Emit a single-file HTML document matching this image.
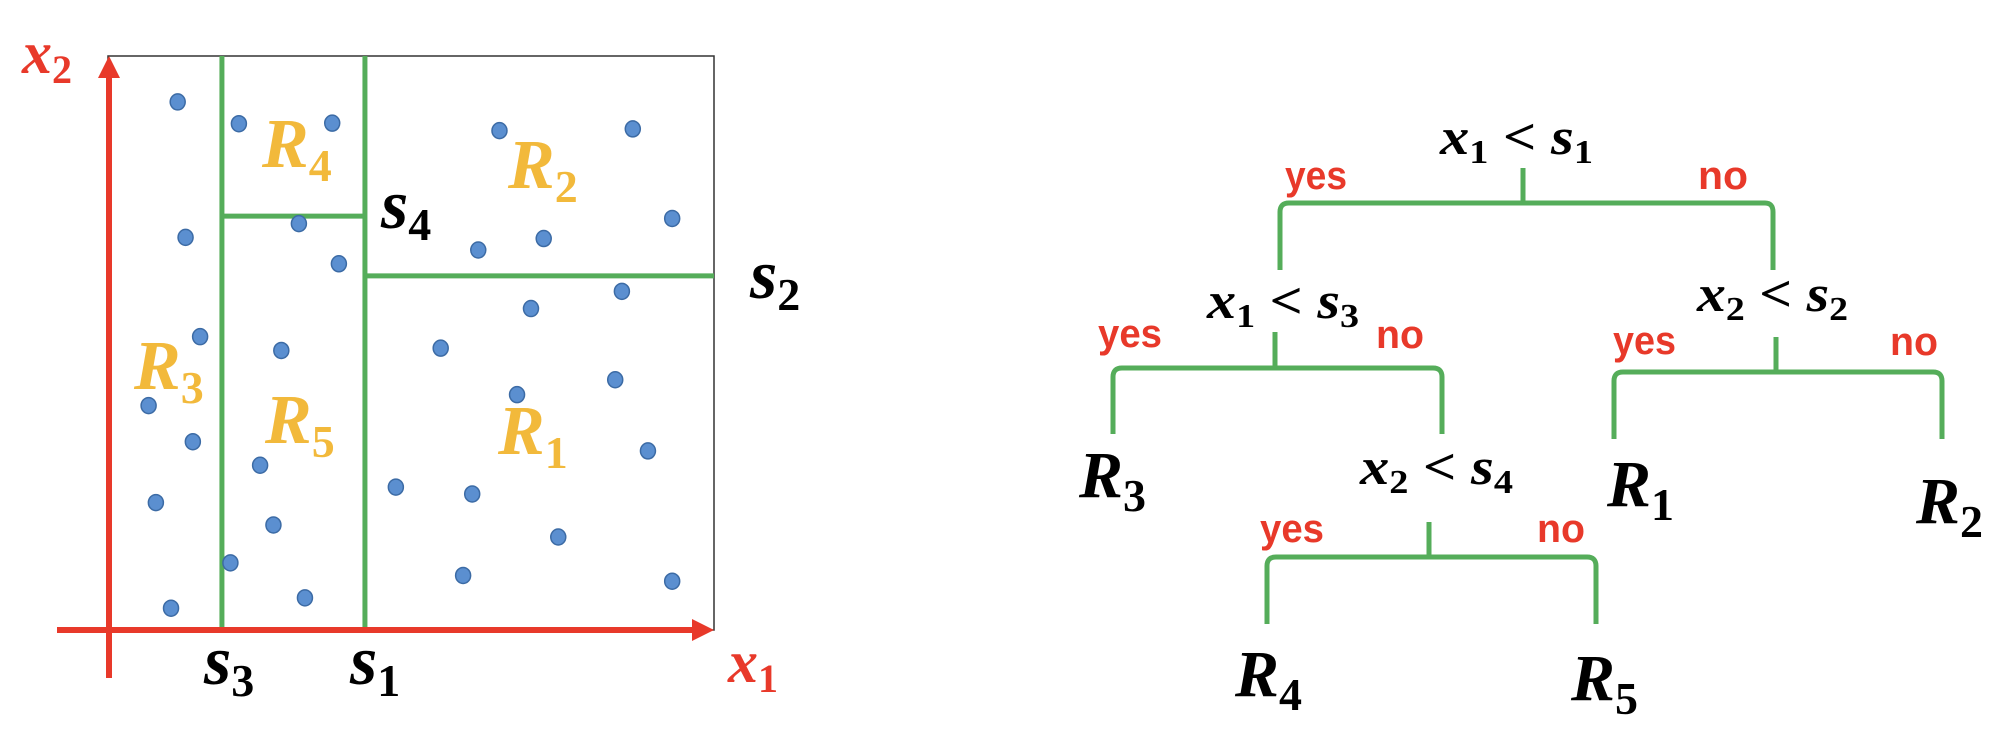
<!DOCTYPE html>
<html><head><meta charset="utf-8"><style>
html,body{margin:0;padding:0;background:#fff;}
svg{display:block;}
.m{font-family:"Liberation Serif",serif;font-style:italic;font-weight:bold;}
.sub{font-style:normal;}
.yn{font-family:"Liberation Sans",sans-serif;font-weight:bold;fill:#e8392a;font-size:40px;}
.reg{fill:#f2b93b;}
</style></head><body>
<svg id="chart" width="1992" height="730" viewBox="0 0 1992 730" xmlns="http://www.w3.org/2000/svg">
<g id="left">
  <rect x="108" y="56" width="606" height="574" fill="none" stroke="#333" stroke-width="1.5"/>
  <g id="splits"></g>
  <g id="points"></g>
  <line x1="57" y1="630" x2="696" y2="630" stroke="#e8392a" stroke-width="6"/>
  <polygon points="714,630 692,619 692,641" fill="#e8392a"/>
  <line x1="109" y1="678" x2="109" y2="74" stroke="#e8392a" stroke-width="6"/>
  <polygon points="109,56 98,78 120,78" fill="#e8392a"/>
  <text class="m" x="22" y="73" font-size="60" fill="#e8392a">x<tspan class="sub" font-size="40" dy="10">2</tspan></text>
  <text class="m" x="728" y="682" font-size="60" fill="#e8392a">x<tspan class="sub" font-size="40" dy="10">1</tspan></text>
  <text class="m" x="204" y="684" font-size="70">s<tspan class="sub" font-size="46" dy="12">3</tspan></text>
  <text class="m" x="350" y="684" font-size="70">s<tspan class="sub" font-size="46" dy="12">1</tspan></text>
  <text class="m" x="381" y="228" font-size="70">s<tspan class="sub" font-size="46" dy="12">4</tspan></text>
  <text class="m" x="750" y="298" font-size="70">s<tspan class="sub" font-size="46" dy="12">2</tspan></text>
  <text class="m reg" x="262" y="167" font-size="70">R<tspan class="sub" font-size="46" dy="14">4</tspan></text>
  <text class="m reg" x="508" y="188" font-size="70">R<tspan class="sub" font-size="46" dy="14">2</tspan></text>
  <text class="m reg" x="134" y="389" font-size="70">R<tspan class="sub" font-size="46" dy="14">3</tspan></text>
  <text class="m reg" x="265" y="443" font-size="70">R<tspan class="sub" font-size="46" dy="14">5</tspan></text>
  <text class="m reg" x="498" y="454" font-size="70">R<tspan class="sub" font-size="46" dy="14">1</tspan></text>
</g>
<g id="tree" fill="none" stroke="#55ad5a" stroke-width="5">
  <path d="M1523,168 V203 M1280,270 V212 Q1280,203 1289,203 H1765 Q1773,203 1773,212 V270"/>
  <path d="M1275,332 V368 M1113,434 V377 Q1113,368 1122,368 H1433 Q1442,368 1442,377 V434"/>
  <path d="M1776,337 V372 M1614,439 V381 Q1614,372 1623,372 H1933 Q1942,372 1942,381 V439"/>
  <path d="M1429,522 V557 M1267,624 V566 Q1267,557 1276,557 H1587 Q1596,557 1596,566 V624"/>
</g>
<g>
  <text class="m" x="1440" y="154" font-size="52" textLength="153" lengthAdjust="spacingAndGlyphs">x<tspan class="sub" font-size="34" dy="9">1</tspan><tspan dy="-9"> &lt; s</tspan><tspan class="sub" font-size="34" dy="9">1</tspan></text>
  <text class="m" x="1207" y="318" font-size="52" textLength="152" lengthAdjust="spacingAndGlyphs">x<tspan class="sub" font-size="34" dy="9">1</tspan><tspan dy="-9"> &lt; s</tspan><tspan class="sub" font-size="34" dy="9">3</tspan></text>
  <text class="m" x="1697" y="311" font-size="52" textLength="151" lengthAdjust="spacingAndGlyphs">x<tspan class="sub" font-size="34" dy="9">2</tspan><tspan dy="-9"> &lt; s</tspan><tspan class="sub" font-size="34" dy="9">2</tspan></text>
  <text class="m" x="1360" y="484" font-size="52" textLength="153" lengthAdjust="spacingAndGlyphs">x<tspan class="sub" font-size="34" dy="9">2</tspan><tspan dy="-9"> &lt; s</tspan><tspan class="sub" font-size="34" dy="9">4</tspan></text>
  <text class="yn" x="1285" y="189" textLength="62" lengthAdjust="spacingAndGlyphs">yes</text>
  <text class="yn" x="1698" y="189" textLength="50" lengthAdjust="spacingAndGlyphs">no</text>
  <text class="yn" x="1098" y="347" textLength="64" lengthAdjust="spacingAndGlyphs">yes</text>
  <text class="yn" x="1376" y="348" textLength="48" lengthAdjust="spacingAndGlyphs">no</text>
  <text class="yn" x="1613" y="354" textLength="63" lengthAdjust="spacingAndGlyphs">yes</text>
  <text class="yn" x="1890" y="355" textLength="48" lengthAdjust="spacingAndGlyphs">no</text>
  <text class="yn" x="1260" y="542" textLength="64" lengthAdjust="spacingAndGlyphs">yes</text>
  <text class="yn" x="1537" y="542" textLength="48" lengthAdjust="spacingAndGlyphs">no</text>
  <text class="m" x="1079" y="497" font-size="66">R<tspan class="sub" font-size="46" dy="14">3</tspan></text>
  <text class="m" x="1607" y="506" font-size="66">R<tspan class="sub" font-size="46" dy="14">1</tspan></text>
  <text class="m" x="1916" y="523" font-size="66">R<tspan class="sub" font-size="46" dy="14">2</tspan></text>
  <text class="m" x="1235" y="696" font-size="66">R<tspan class="sub" font-size="46" dy="14">4</tspan></text>
  <text class="m" x="1571" y="700" font-size="66">R<tspan class="sub" font-size="46" dy="14">5</tspan></text>
</g>
</svg>
<script>
// data in plot units (0-100 on each axis)
const pointX = [11.5,21.6,37.0,64.6,86.6,12.8,31.5,38.1,61.1,71.9,93.1,84.8,69.8,15.2,28.6,54.9,83.7,67.5,6.7,14.0,89.1,25.1,47.5,60.1,7.9,27.3,74.3,20.2,58.6,93.1,32.5,10.4];
const pointY = [92.0,88.2,88.3,87.0,87.3,68.4,70.8,63.8,66.2,68.2,71.7,59.0,56.0,51.1,48.7,49.1,43.6,41.0,39.1,32.8,31.2,28.7,24.9,23.7,22.2,18.3,16.2,11.7,9.5,8.5,5.6,3.8];
const splitS1 = 42.4, splitS3 = 18.8, splitS2 = 61.7, splitS4 = 72.1;

const X0 = 108, X1 = 714, Y0 = 630, Y1 = 56;
function xs(v){ return X0 + v/100*(X1-X0); }
function ys(v){ return Y0 - v/100*(Y0-Y1); }
const NS = 'http://www.w3.org/2000/svg';
const sg = document.getElementById('splits');
function line(x1,y1,x2,y2,name){
  const l = document.createElementNS(NS,'line');
  l.setAttribute('x1',x1); l.setAttribute('y1',y1); l.setAttribute('x2',x2); l.setAttribute('y2',y2);
  l.setAttribute('stroke','#55ad5a'); l.setAttribute('stroke-width','5');
  
  
  sg.appendChild(l);
}
line(xs(splitS3),ys(100),xs(splitS3),ys(0),'split-s3');
line(xs(splitS1),ys(100),xs(splitS1),ys(0),'split-s1');
line(xs(splitS3),ys(splitS4),xs(splitS1),ys(splitS4),'split-s4');
line(xs(splitS1),ys(splitS2),xs(100),ys(splitS2),'split-s2');
const pg = document.getElementById('points');
for (let i=0;i<pointX.length;i++){
  const c = document.createElementNS(NS,'ellipse');
  c.setAttribute('cx',xs(pointX[i])); c.setAttribute('cy',ys(pointY[i]));
  c.setAttribute('rx',7.5); c.setAttribute('ry',8);
  c.setAttribute('fill','#5b8fd0'); c.setAttribute('stroke','#3c6ba5'); c.setAttribute('stroke-width','1.5');
  
  
  pg.appendChild(c);
}
</script>
</body></html>
